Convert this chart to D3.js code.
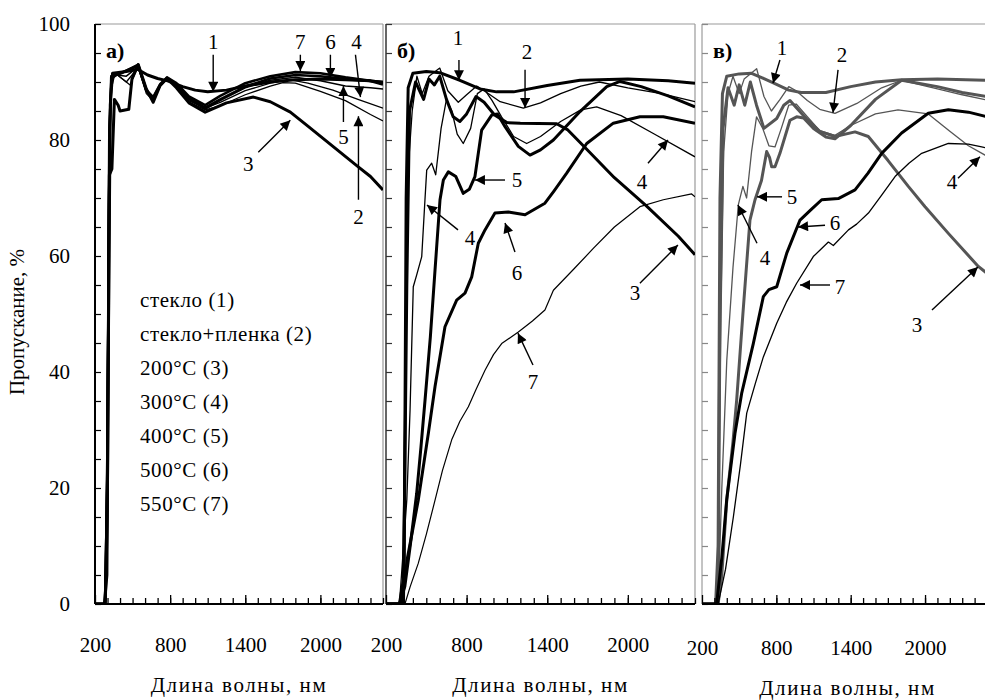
<!DOCTYPE html>
<html>
<head>
<meta charset="utf-8">
<script src="https://cdn.jsdelivr.net/npm/d3@7"></script>
<style>
  body { margin: 0; background: #fff; }
  svg { display: block; }
</style>
</head>
<body>
<div id="chart"></div>
<script>
// ---- data: [wavelength nm, transmission %] ----
// panel а)
const a1 = [[200,0],[275,0],[295,5],[310,55],[322,86],[340,91.5],[450,91.8],[540,92.2],[620,91.2],[700,90.6],[780,90.2],[900,89.2],[1000,88.6],[1100,88.3],[1250,88.6],[1400,89.3],[1600,90],[1800,90.4],[2000,90.5],[2200,90.4],[2400,90.2],[2500,89.6]];
const a2 = [[200,0],[280,0],[300,25],[318,78],[332,89],[360,91.5],[420,90.5],[480,89.5],[545,92.8],[610,88.5],[665,87],[720,89.5],[775,90.6],[850,89],[950,86.6],[1080,85.2],[1200,85.9],[1400,87.8],[1600,89.3],[1700,89.9],[1800,89.8],[2000,88.4],[2200,86.8],[2400,84.4],[2500,83.3]];
const a3 = [[200,0],[282,0],[298,15],[315,74],[335,75],[355,87],[385,86],[400,85],[470,85.3],[495,90.5],[545,93],[610,88.8],[665,86.5],[720,89.4],[775,90.6],[850,89],[950,86.4],[1080,84.8],[1250,86.4],[1465,87.4],[1600,86.6],[1760,84.8],[1900,82.4],[2105,78.8],[2300,75.4],[2400,73.7],[2500,71.4]];
const a4 = [[200,0],[278,0],[296,30],[312,82],[330,90.5],[380,91.2],[450,90],[545,92.5],[610,88],[665,86.8],[720,89.2],[775,90.5],[850,89.2],[950,86.8],[1080,85.5],[1200,86.5],[1400,88.5],[1600,89.8],[1750,90.4],[1900,89.8],[2100,88.6],[2300,87],[2500,85.5]];
const a5 = [[200,0],[276,0],[294,10],[308,70],[325,89],[350,91.3],[450,91],[545,92.6],[610,88.4],[665,87.3],[720,89.5],[775,90.7],[850,89.4],[950,87],[1080,85.3],[1200,86.8],[1400,89],[1600,90.3],[1800,90.8],[2000,90.2],[2200,89.3],[2400,89],[2500,88.8]];
const a6 = [[200,0],[280,0],[298,20],[314,80],[330,91],[400,91.5],[545,92.8],[610,88.6],[665,87.4],[720,89.6],[775,90.7],[850,89.6],[950,87.2],[1080,85.6],[1200,87],[1400,89.2],[1600,90.6],[1800,91.2],[2000,91],[2200,90.5],[2400,90.2],[2500,90]];
const a7 = [[200,0],[282,0],[300,25],[316,82],[332,91],[420,91.6],[545,93],[610,88.5],[665,87.2],[720,89.5],[775,90.8],[850,89.8],[950,87.5],[1080,86],[1200,87.6],[1400,89.8],[1600,91],[1800,91.7],[2000,91.5],[2200,90.8],[2400,90.2],[2500,90]];

// panel б)
const b1 = [[200,0],[300,0],[335,5],[350,70],[365,89],[400,91.5],[500,91.8],[600,91.6],[750,90.3],[900,88.8],[1023,88.3],[1150,88.3],[1400,89.4],[1644,90.3],[2000,90.5],[2300,90.2],[2500,89.8]];
const b2 = [[200,0],[320,0],[345,40],[365,75],[395,85],[430,91],[470,88],[520,91],[600,92.4],[660,88.5],[738,86.5],[800,87.8],[875,89.3],[950,88.2],[1050,86.6],[1222,85.5],[1350,86.4],[1500,88],[1650,89.3],[1788,90],[2000,89],[2250,88],[2500,86.6]];
const b3 = [[200,0],[330,0],[355,55],[375,85],[420,90],[480,87],[520,90.5],[560,89.5],[600,91],[650,87],[700,84],[750,83.2],[800,84.5],[870,87.5],[930,86.5],[1008,84.3],[1100,83],[1200,82.9],[1470,82.8],[1550,81.8],[1694,78.4],[1900,73.5],[2140,68.6],[2376,63.4],[2500,60.2]];
const b4 = [[200,0],[300,0],[355,18],[379,33.4],[403,54.7],[428,56.7],[466,59.9],[490,69.7],[503,74.8],[540,76],[570,74],[610,82],[650,87],[690,85],[730,81],[775,79.4],[830,82],[880,88],[930,88.8],[990,86.8],[1060,84],[1150,80.6],[1247,79.4],[1350,80.6],[1500,83.2],[1650,85.2],[1768,85.7],[1950,84.2],[2200,81],[2500,77.1]];
const b5 = [[200,0],[300,0],[340,3],[380,10],[428,19],[460,27],[490,35],[530,46],[565,57.6],[602,69.7],[627,73.1],[664,74.5],[720,73.7],[775,70.8],[820,71.5],[862,73.7],[912,81.7],[987,84.3],[1030,84.5],[1086,82.3],[1185,78.9],[1272,77.4],[1350,78.3],[1446,80],[1644,84.9],[1843,89.2],[1942,90.1],[2100,89.2],[2300,87.6],[2500,85.7]];
const b6 = [[200,0],[317,0],[360,8],[440,17.9],[515,29.4],[565,37.5],[639,47.8],[726,52.4],[788,53.6],[838,56.4],[887,62.2],[937,64.5],[1011,67.4],[1110,67.6],[1235,67.1],[1383,69.1],[1450,71.2],[1545,74.3],[1694,79.4],[1892,82.9],[2090,84],[2264,84],[2500,82.9]];
const b7 = [[200,0],[341,0],[380,3],[440,7],[500,12],[565,17.9],[620,23],[689,28.3],[750,31.5],[813,34],[870,37],[937,40.3],[1000,43],[1061,44.9],[1185,46.9],[1290,48.8],[1383,50.7],[1446,54.1],[1600,57.8],[1743,61.3],[1900,65],[2090,68.5],[2264,69.7],[2475,70.7],[2500,70.2]];

// panel в)
const c1 = [[200,0],[310,0],[330,10],[345,70],[365,88],[400,91],[500,91.4],[600,91.5],[700,90.6],[780,89.8],[900,88.6],[1000,88.2],[1200,88.2],[1400,89.2],[1600,90],[1811,90.4],[2100,90.5],[2500,90.3]];
const c2 = [[200,0],[325,0],[350,45],[375,78],[410,88],[450,91],[500,88],[540,90.5],[641,92.3],[700,87.5],[760,85],[830,87],[900,89.2],[960,88.5],[1050,86.8],[1150,85.3],[1273,84.6],[1450,86.3],[1650,89],[1811,90.3],[2100,88.8],[2300,87.8],[2500,86.9]];
const c3 = [[200,0],[330,0],[345,50],[370,82],[410,89],[460,86],[500,89.5],[545,86],[590,90],[640,86],[700,82],[803,83.7],[860,86],[910,86.8],[964,85.5],[1050,83.5],[1150,81.5],[1273,80.6],[1435,81.4],[1542,80.6],[1700,76.5],[1865,72],[2000,68.5],[2188,63.9],[2430,58.2],[2500,57]];
const c4 = [[200,0],[330,0],[360,20],[400,42],[450,58],[493,68.8],[530,72],[560,70],[600,78],[640,84],[690,82],[740,79],[789,78.8],[840,82],[900,86],[960,86.2],[1050,84],[1150,81.6],[1273,80.8],[1400,82.5],[1600,84.5],[1782,85.2],[2026,84.5],[2200,81.5],[2350,79],[2484,77.4],[2500,77.2]];
const c5 = [[200,0],[330,0],[360,5],[400,18],[450,28],[480,35.2],[530,50],[587,66.2],[628,69.7],[680,73],[722,78],[745,77],[762,75.4],[789,75.4],[829,77.7],[910,83.4],[964,84],[1020,83.8],[1100,82],[1200,80.5],[1273,80.2],[1400,82.5],[1600,87],[1811,90.3],[2100,89.2],[2300,88.2],[2500,87.5]];
const c6 = [[200,0],[318,0],[360,8],[399,17.9],[466,29.4],[520,36.3],[614,44.9],[695,53],[740,54.2],[803,54.7],[884,60.5],[991,66.2],[1080,68],[1166,69.7],[1300,69.9],[1435,71.4],[1540,74.3],[1650,77.7],[1811,81.2],[2026,84.6],[2188,85.2],[2350,84.8],[2500,84]];
const c7 = [[200,0],[330,0],[390,6],[453,15],[510,24],[561,32.9],[630,38],[695,42.6],[803,48.4],[880,52],[964,55.3],[1098,59.9],[1220,62.4],[1260,61.8],[1382,64.5],[1448,65.5],[1543,67.4],[1650,70.5],[1758,73.7],[1870,76],[1973,77.7],[2188,79.4],[2350,79.3],[2457,78.8],[2500,78.6]];

const xTickLabels = [200, 800, 1400, 2000];
const yTickLabels = [0, 20, 40, 60, 80, 100];
const legendItems = ['стекло (1)', 'стекло+пленка (2)', '200°C (3)', '300°C (4)', '400°C (5)', '500°C (6)', '550°C (7)'];

// callouts: [label, text λ, text T, tail λ, tail T, tip λ, tip T]
const notesA = [['1',1144,96.9,1144,94.7,1144,88.3],['7',1840,96.9,1840,94.7,1840,91.9],['6',2080,96.9,2080,94.7,2080,90.7],
  ['4',2288,96.9,2280,94.7,2320,87.4],['5',2184,80.5,2184,83.1,2184,89.3],['2',2304,66.7,2304,69.7,2304,84.1],['3',1424,76,1504,77.9,1760,83.4]];
const notesB = [['1',736,97.6,743,93.8,743,90.3],['2',1249,95.2,1235,92.1,1235,85.5],['5',1175,73.1,1086,73.1,862,73.1],
  ['4',825,63.1,736,64.5,505,68.8],['6',1175,57.2,1160,60.7,1086,65.7],['4',2105,72.8,2150,76,2299,80],
  ['3',2053,53.6,2090,55.3,2373,61.9],['7',1294,38.3,1294,41.2,1182,46.7]];
const notesC = [['1',846,96,829,93.8,773,89.8],['2',1330,94.7,1298,92.1,1257,84.7],['5',926,70.2,846,70.2,644,70.2],
  ['4',708,59.8,644,62.2,490,68.8],['6',1273,65.7,1193,65.3,975,65],['7',1314,54.7,1233,55,991,55],
  ['4',2218,72.8,2266,73.4,2443,77.1],['3',1935,48.1,2056,50.7,2427,58.1]];

// ---- layout ----
const W = 985, H = 700;
const plotTop = 24, plotBottom = 604;
const FONT = '"Liberation Serif", "Times New Roman", "DejaVu Serif", serif';
const y = d3.scaleLinear().domain([0, 100]).range([plotBottom, plotTop]);
const GREY = '#555';

const panels = [
  { id: 'a', tag: 'а)', left: 95, right: 383, axisCol: '#000', axisW: 2, notes: notesA, titleY: 692, labY: 0,
    curves: [[a2,1.3,'#000'],[a4,1.3,'#000'],[a5,1.5,'#000'],[a3,3,'#000'],[a6,2.6,'#000'],[a7,2.6,'#000'],[a1,3,'#000']] },
  { id: 'b', tag: 'б)', left: 386, right: 695, axisCol: '#333', axisW: 1.5, notes: notesB, titleY: 692, labY: 0,
    curves: [[b7,1.2,'#000'],[b4,1.3,'#000'],[b2,1.3,'#000'],[b6,3,'#000'],[b5,3,'#000'],[b3,3,'#000'],[b1,3,'#000']] },
  { id: 'c', tag: 'в)', left: 702, right: 987, axisCol: '#888', axisW: 1, notes: notesC, titleY: 695, labY: 3,
    curves: [[c4,1.3,GREY],[c2,1.3,GREY],[c5,3,GREY],[c3,3,GREY],[c1,3,GREY],[c7,1.3,'#000'],[c6,3,'#000']] }
];

const svg = d3.select('#chart').append('svg').attr('width', W).attr('height', H)
  .style('font-family', FONT);
const defs = svg.append('defs');
defs.append('marker').attr('id', 'head')
  .attr('viewBox', '0 0 10 10').attr('refX', 10).attr('refY', 5)
  .attr('markerUnits', 'userSpaceOnUse').attr('markerWidth', 12).attr('markerHeight', 10)
  .attr('orient', 'auto')
  .append('path').attr('d', 'M0,0L10,5L0,10Z').attr('fill', '#000');

panels.forEach(p => {
  const x = d3.scaleLinear().domain([200, 2500]).range([p.left, p.right]);
  const g = svg.append('g');

  defs.append('clipPath').attr('id', 'clip-' + p.id)
    .append('rect').attr('x', p.left).attr('y', plotTop).attr('width', p.right - p.left).attr('height', plotBottom - plotTop);

  // frame (top and right edges are light)
  g.append('line').attr('x1', p.left).attr('x2', p.right).attr('y1', plotTop).attr('y2', plotTop)
    .attr('stroke', '#9a9a9a').attr('stroke-width', 1.2);
  g.append('line').attr('x1', p.right).attr('x2', p.right).attr('y1', plotTop).attr('y2', plotBottom)
    .attr('stroke', '#9a9a9a').attr('stroke-width', 1.2);

  // curves
  const line = d3.line().x(d => x(d[0])).y(d => y(d[1]));
  const cg = g.append('g').attr('clip-path', `url(#clip-${p.id})`);
  p.curves.forEach(([data, w, col]) => {
    cg.append('path').datum(data).attr('d', line)
      .attr('fill', 'none').attr('stroke', col).attr('stroke-width', w)
      .attr('stroke-linejoin', 'round');
  });

  // y axis ticks (inside)
  const yAx = g.append('g').attr('transform', `translate(${p.left},0)`)
    .call(d3.axisRight(y).tickValues(d3.range(0, 101, 5)).tickSize(6).tickFormat(''));
  yAx.select('.domain').remove();
  yAx.selectAll('line').attr('stroke', p.axisCol).attr('stroke-width', 1.2);
  g.append('line').attr('x1', p.left).attr('x2', p.left).attr('y1', plotTop).attr('y2', plotBottom)
    .attr('stroke', p.axisCol).attr('stroke-width', p.axisW);

  // x axis: minor ticks every 100 nm, major with labels
  const xMinor = g.append('g').attr('transform', `translate(0,${plotBottom})`)
    .call(d3.axisBottom(x).tickValues(d3.range(300, 2501, 100)).tickSize(-6).tickFormat(''));
  xMinor.select('.domain').remove();
  xMinor.selectAll('line').attr('stroke', '#000').attr('stroke-width', 1.3);
  const xMajor = g.append('g').attr('transform', `translate(0,${plotBottom})`)
    .call(d3.axisBottom(x).tickValues(xTickLabels).tickSize(-9).tickPadding(33 + p.labY).tickFormat(d3.format('d')));
  xMajor.select('.domain').remove();
  xMajor.selectAll('line').attr('stroke', '#000').attr('stroke-width', 1.3);
  xMajor.selectAll('text').attr('font-size', 21).attr('fill', '#000').style('font-family', FONT);
  g.append('line').attr('x1', p.left).attr('x2', Math.min(p.right, W)).attr('y1', plotBottom).attr('y2', plotBottom)
    .attr('stroke', '#000').attr('stroke-width', 2);

  // x title
  g.append('text').attr('x', (p.left + Math.min(p.right, 985)) / 2 + (p.id === 'c' ? 4 : 0)).attr('y', p.titleY)
    .attr('text-anchor', 'middle').attr('font-size', 21).attr('letter-spacing', 1.6)
    .style('font-family', FONT).text('Длина волны, нм');

  // panel tag
  g.append('text').attr('x', p.left + 11).attr('y', 58).attr('font-size', 22).attr('font-weight', 'bold')
    .style('font-family', FONT).text(p.tag);

  // callouts
  p.notes.forEach(([lab, tx, ty, fx, fy, hx, hy]) => {
    g.append('line').attr('x1', x(fx)).attr('y1', y(fy)).attr('x2', x(hx)).attr('y2', y(hy))
      .attr('stroke', '#000').attr('stroke-width', 1.4).attr('marker-end', 'url(#head)');
    g.append('text').attr('x', x(tx)).attr('y', y(ty)).attr('dy', '0.35em')
      .attr('text-anchor', 'middle').attr('font-size', 21).style('font-family', FONT).text(lab);
  });
});

// y tick labels (left panel only)
const yLab = svg.append('g').attr('transform', 'translate(95,0)')
  .call(d3.axisLeft(y).tickValues(yTickLabels).tickSize(0).tickPadding(25));
yLab.select('.domain').remove();
yLab.selectAll('text').attr('font-size', 21).attr('fill', '#000').style('font-family', FONT);

// y title
svg.append('text').attr('transform', 'translate(24,322) rotate(-90)')
  .attr('text-anchor', 'middle').attr('font-size', 21).style('font-family', FONT).text('Пропускание, %');

// legend (panel а)
svg.append('g').selectAll('text').data(legendItems).join('text')
  .attr('x', 140).attr('y', (d, i) => 300 + i * 34).attr('dy', '0.35em')
  .attr('font-size', 21).attr('letter-spacing', 0.6).style('font-family', FONT).text(d => d);
</script>
</body>
</html>
